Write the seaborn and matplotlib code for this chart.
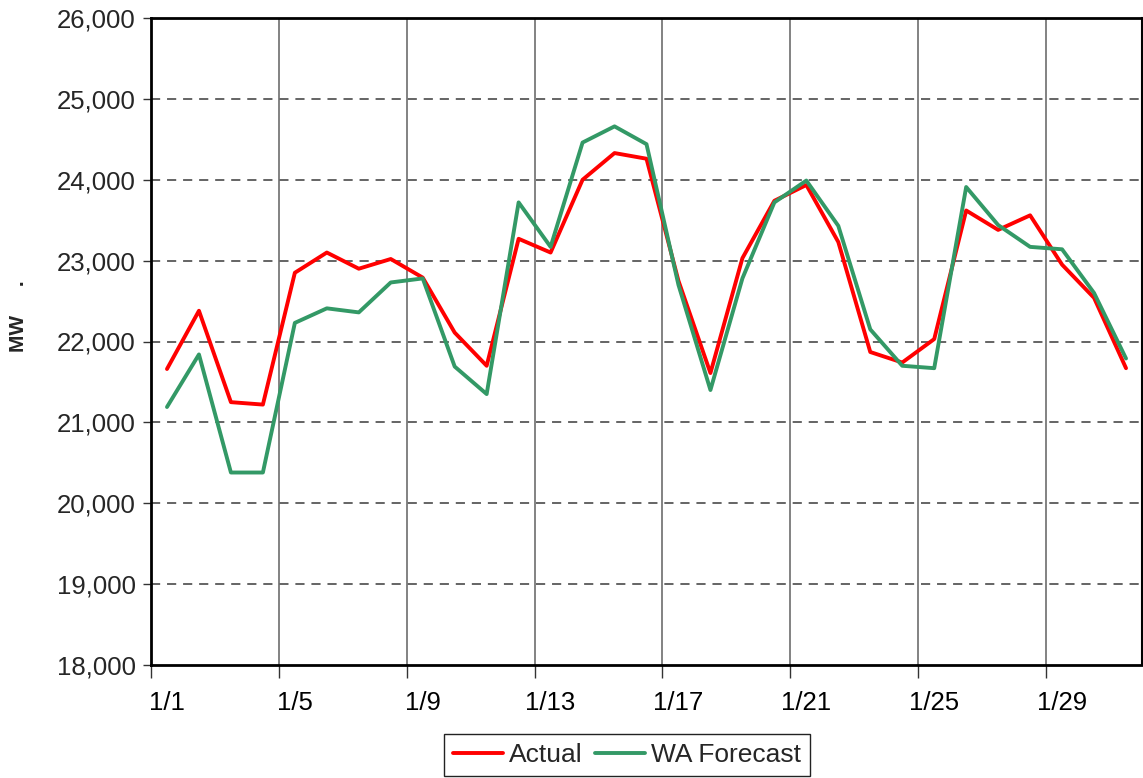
import pandas as pd
import numpy as np
import matplotlib
matplotlib.use('Agg')
import matplotlib.pyplot as plt
import seaborn as sns
from matplotlib.ticker import FixedLocator, FuncFormatter

# ── Data ──────────────────────────────────────────────────
days = ['1/1', '1/2', '1/3', '1/4', '1/5', '1/6', '1/7', '1/8', '1/9', '1/10',
        '1/11', '1/12', '1/13', '1/14', '1/15', '1/16', '1/17', '1/18', '1/19',
        '1/20', '1/21', '1/22', '1/23', '1/24', '1/25', '1/26', '1/27', '1/28',
        '1/29', '1/30', '1/31']
actual = [21660, 22380, 21250, 21220, 22850, 23100, 22900, 23020, 22790, 22110,
          21700, 23270, 23100, 24000, 24330, 24260, 22750, 21610, 23030, 23740,
          23935, 23230, 21870, 21740, 22030, 23620, 23380, 23560, 22950, 22540,
          21670]
forecast = [21190, 21840, 20380, 20380, 22230, 22410, 22360, 22730, 22780, 21690,
            21350, 23720, 23170, 24460, 24660, 24440, 22700, 21400, 22780, 23720,
            23990, 23430, 22150, 21700, 21670, 23910, 23440, 23170, 23140, 22600,
            21790]
tick_labels = ['1/1', '1/5', '1/9', '1/13', '1/17', '1/21', '1/25', '1/29']
y_ticks = [18000, 19000, 20000, 21000, 22000, 23000, 24000, 25000, 26000]

n = len(days)
df = pd.DataFrame({
    'day': list(range(n)) * 2,
    'MW': actual + forecast,
    'series': ['Actual'] * n + ['WA Forecast'] * n,
})

# ── Style ─────────────────────────────────────────────────
sns.set_style('white')
plt.rcParams['font.family'] = ['Liberation Sans', 'DejaVu Sans']

W, H = 1143, 778
fig = plt.figure(figsize=(W / 100, H / 100), dpi=100)
ax = fig.add_axes([151 / W, 1 - 665 / H, (1142 - 151) / W, (665 - 18) / H])

palette = {'Actual': '#FF0000', 'WA Forecast': '#339966'}
sns.lineplot(data=df, x='day', y='MW', hue='series', palette=palette,
             linewidth=2.8, ax=ax, legend=False, zorder=3)

# ── Axes ──────────────────────────────────────────────────
ax.set_xlim(-0.5, n - 0.5)
ax.set_ylim(18000, 26000)
ax.set_yticks(y_ticks)
ax.yaxis.set_major_formatter(FuncFormatter(lambda v, p: f'{v:,.0f}'))

pos = [days.index(t) for t in tick_labels]
ax.xaxis.set_major_locator(FixedLocator([p - 0.5 for p in pos]))
ax.xaxis.set_major_formatter(FuncFormatter(lambda v, p: ''))
ax.xaxis.set_minor_locator(FixedLocator(pos))
ax.set_xticklabels(tick_labels, minor=True)

ax.tick_params(axis='x', which='major', direction='out', length=9, width=1,
               color='#333333', bottom=True)
ax.tick_params(axis='x', which='minor', length=0, labelsize=18.5, pad=19,
               colors='black', bottom=True)
ax.tick_params(axis='y', direction='out', length=6, width=1, color='#333333',
               labelsize=18.5, pad=5, left=True)

ax.grid(False)
for y in y_ticks[1:-1]:
    ax.axhline(y, color='#3a3a3a', lw=1.1, ls=(0, (6, 4.5)), zorder=1)
for p in pos[1:]:
    ax.axvline(p - 0.5, color='#606060', lw=1.1, zorder=1)

for s in ['left', 'bottom', 'top']:
    ax.spines[s].set_color('black')
    ax.spines[s].set_linewidth(2.0)
ax.spines['right'].set_color('black')
ax.spines['right'].set_linewidth(1.5)

ax.set_xlabel('')
ax.set_ylabel('MW     .', fontsize=15, fontweight='bold')
ax.yaxis.set_label_coords(-0.124, 0.539)

# ── Legend ────────────────────────────────────────────────
handles = ax.get_lines()[:2]
leg = fig.legend(handles, ['Actual', 'WA Forecast'], loc='upper center',
                 bbox_to_anchor=(627 / W, 1 - 734 / H), ncol=2,
                 fontsize=19, frameon=True, fancybox=False, framealpha=1,
                 edgecolor='#222222', handlelength=1.9, handletextpad=0.22,
                 columnspacing=0.45, borderpad=0.35, borderaxespad=0)
leg.get_frame().set_linewidth(1.0)

plt.savefig('out.png', dpi=100)
